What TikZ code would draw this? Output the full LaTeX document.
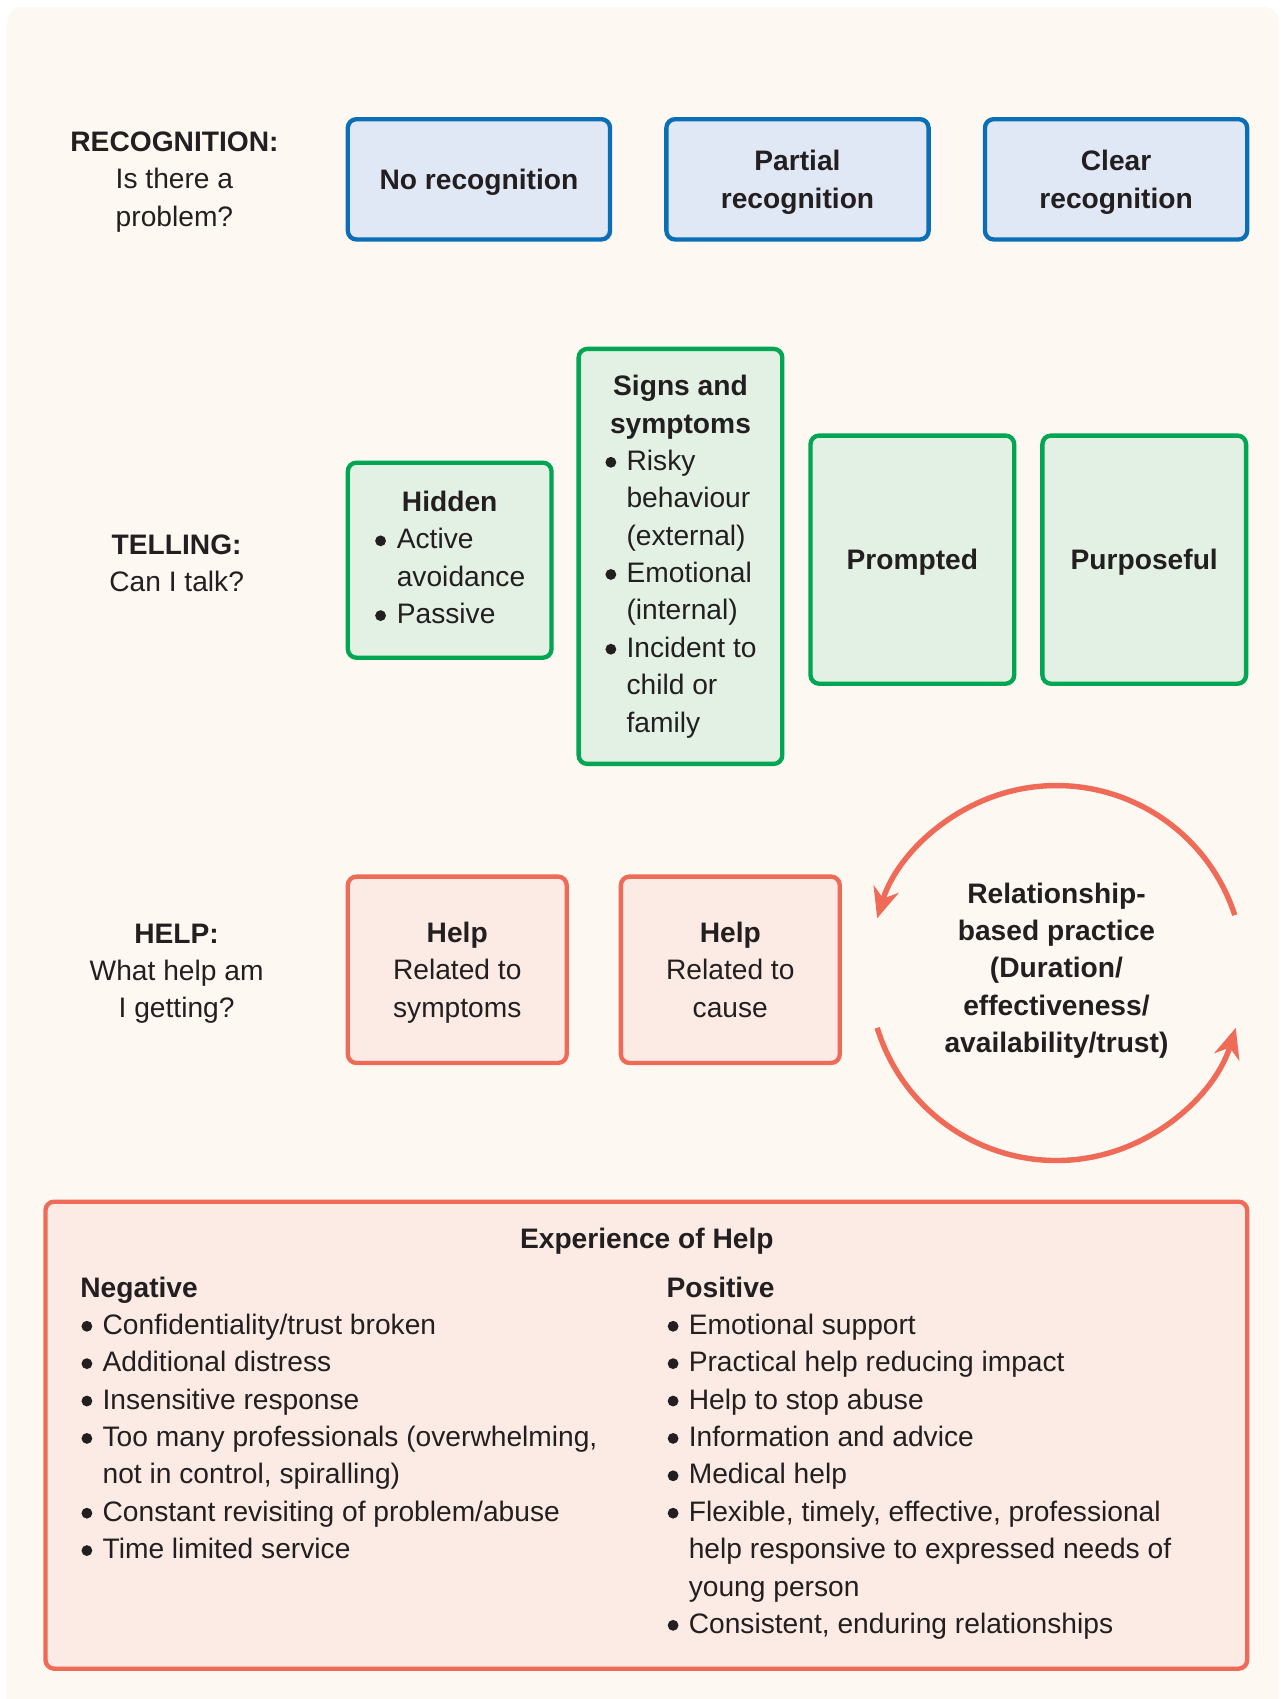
\documentclass[tikz,border=0pt]{standalone}
\usepackage{fontspec}
\setmainfont{Liberation Sans}
\usetikzlibrary{arrows.meta}

\definecolor{bgcream}{HTML}{FDF8F1}
\definecolor{ink}{HTML}{231F20}
\definecolor{recblue}{HTML}{0B6FB8}
\definecolor{recfill}{HTML}{E1E8F5}
\definecolor{telgreen}{HTML}{00A651}
\definecolor{telfill}{HTML}{E3F1E4}
\definecolor{helpred}{HTML}{EF6B57}
\definecolor{helpfill}{HTML}{FBEBE4}

\tikzset{
  box/.style={draw, line width=4pt, rounded corners=8pt, inner sep=0pt, align=center},
  flat/.style={text depth=0pt},
  recbox/.style={box, flat, draw=recblue, fill=recfill, minimum width=242pt, minimum height=111pt},
  telbox/.style={box, draw=telgreen, fill=telfill, minimum width=188pt},
  helpbox/.style={box, flat, draw=helpred, fill=helpfill, minimum width=202pt, minimum height=172pt},
  rowlabel/.style={align=center, inner sep=0pt, flat},
  cyclearrow/.style={draw=helpred, line width=5pt, -{Stealth[length=28pt, width=24pt, inset=9pt]}}
}

\newcommand{\bul}{\hspace{1pt}\raisebox{2.5pt}{\tikz\fill[ink] (0,0) circle[radius=5pt];}}

\begin{document}
\begin{tikzpicture}[x=1pt, y=-1pt, font=\fontsize{26}{34.5}\selectfont, text=ink]
  \useasboundingbox (0,0) rectangle (1184,1568);
  % background
  \fill[bgcream] (6.5,1568) [rounded corners=14pt] -- (6.5,6.5) -- (1180,6.5) [sharp corners] -- (1180,1568) -- cycle;

  % row labels
  \node[rowlabel] (reclabel) at (161,165) {\textbf{RECOGNITION:}\\Is there a\\problem?};
  \node[rowlabel] (tellabel) at (163,520) {\textbf{TELLING:}\\Can I talk?};
  \node[rowlabel] (helplabel) at (163,896) {\textbf{HELP:}\\What help am\\I getting?};

  % recognition
  \node[recbox] (norec) at (442,165.5) {\textbf{No recognition}};
  \node[recbox] (partrec) at (736,165.5) {\textbf{Partial}\\\textbf{recognition}};
  \node[recbox] (clearrec) at (1030,165.5) {\textbf{Clear}\\\textbf{recognition}};

  % telling
  \node[telbox, minimum height=180pt] (hidden) at (415,517) {%
    \begin{tabular}{@{}l@{\hspace{10pt}}l@{}}
      \multicolumn{2}{@{}c@{}}{\textbf{Hidden}}\\
      \bul & Active\\
           & avoidance\\
      \bul & Passive
    \end{tabular}};
  \node[telbox, minimum height=383pt] (signs) at (628,513.5) {%
    \begin{tabular}{@{}l@{\hspace{9.5pt}}l@{}}
      \multicolumn{2}{@{}c@{}}{\textbf{Signs and}}\\
      \multicolumn{2}{@{}c@{}}{\textbf{symptoms}}\\
      \bul & Risky\\
           & behaviour\\
           & (external)\\
      \bul & Emotional\\
           & (internal)\\
      \bul & Incident to\\
           & child or\\
           & family
    \end{tabular}};
  \node[telbox, flat, minimum height=229pt] (prompted) at (842,516.5) {\textbf{Prompted}};
  \node[telbox, flat, minimum height=229pt] (purposeful) at (1056,516.5) {\textbf{Purposeful}};

  % help
  \node[helpbox] (helpsym) at (422,895) {\textbf{Help}\\Related to\\symptoms};
  \node[helpbox] (helpcause) at (674,895) {\textbf{Help}\\Related to\\cause};

  \node[rowlabel] (cycle) at (975,893) {\textbf{Relationship-}\\\textbf{based practice}\\\textbf{(Duration/}\\\textbf{effectiveness/}\\\textbf{availability/trust)}};
  \path[cyclearrow] (975,898) ++(-18:173) arc[start angle=-18, end angle=-163, radius=173];
  \path[cyclearrow] (975,898) ++(163:173) arc[start angle=163, end angle=17, radius=173];

  % experience of help
  \node[box, draw=helpred, fill=helpfill, minimum width=1109pt, minimum height=431pt] (experience) at (596.5,1324.5) {};
  \node[anchor=base] (exptitle) at (597,1152) {\textbf{Experience of Help}};
  \node[anchor=base west, inner sep=0pt] (negative) at (74,1197) {%
    \begin{tabular}[t]{@{}l@{\hspace{9.5pt}}l@{}}
      \multicolumn{2}{@{}l@{}}{\textbf{Negative}}\\
      \bul & Confidentiality/trust broken\\
      \bul & Additional distress\\
      \bul & Insensitive response\\
      \bul & Too many professionals (overwhelming,\\
           & not in control, spiralling)\\
      \bul & Constant revisiting of problem/abuse\\
      \bul & Time limited service
    \end{tabular}};
  \node[anchor=base west, inner sep=0pt] (positive) at (615,1197) {%
    \begin{tabular}[t]{@{}l@{\hspace{9.5pt}}l@{}}
      \multicolumn{2}{@{}l@{}}{\textbf{Positive}}\\
      \bul & Emotional support\\
      \bul & Practical help reducing impact\\
      \bul & Help to stop abuse\\
      \bul & Information and advice\\
      \bul & Medical help\\
      \bul & Flexible, timely, effective, professional\\
           & help responsive to expressed needs of\\
           & young person\\
      \bul & Consistent, enduring relationships
    \end{tabular}};
\end{tikzpicture}
\end{document}
